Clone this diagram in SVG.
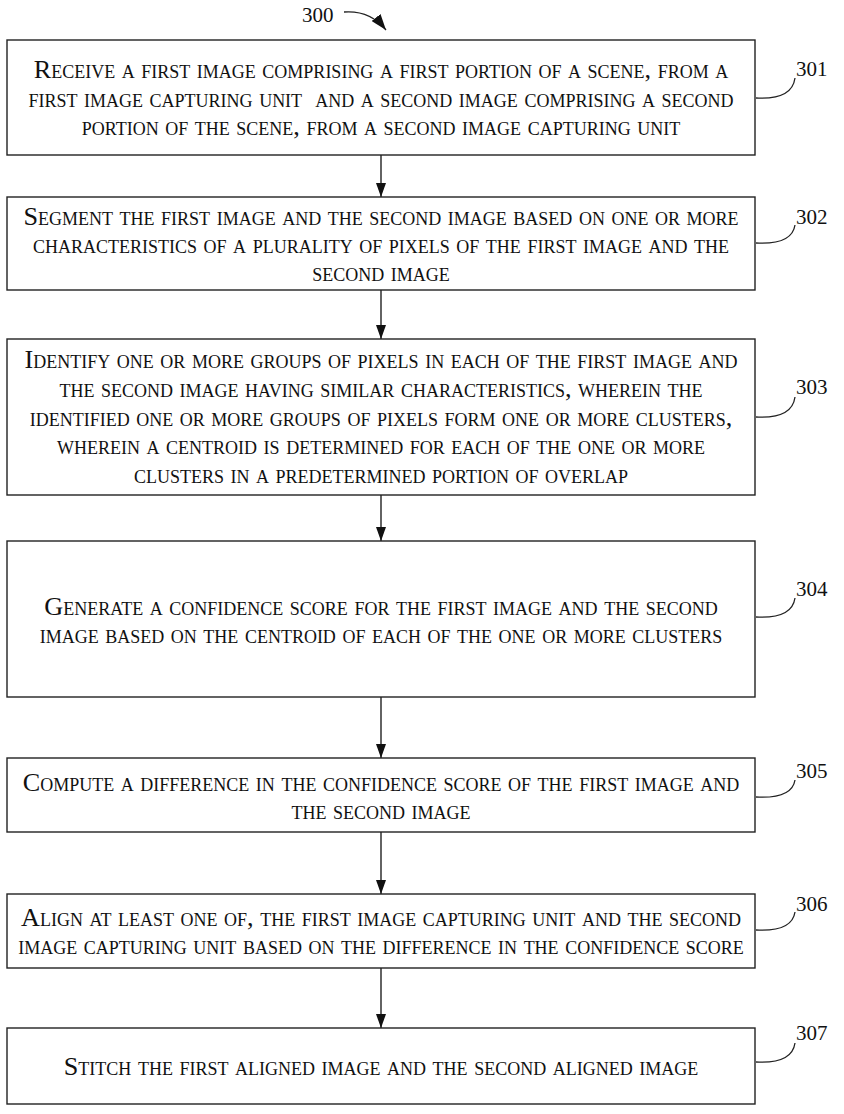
<svg xmlns="http://www.w3.org/2000/svg" width="844" height="1114" viewBox="0 0 844 1114">
<style>
.box{fill:#fff;stroke:#222;stroke-width:1.4}
.t{font-family:"Liberation Serif","Times New Roman",serif;font-size:26.2px;font-variant:small-caps;fill:#111;text-anchor:middle}
.n{font-family:"Liberation Serif","Times New Roman",serif;font-size:21px;fill:#111}
.lead{fill:none;stroke:#222;stroke-width:1.3}
.conn{stroke:#222;stroke-width:1.4;fill:none}
</style>
<defs>
<marker id="ah" viewBox="0 0 14 10" refX="14" refY="5" markerWidth="14" markerHeight="10" markerUnits="userSpaceOnUse" orient="auto">
<path d="M0,0 L14,5 L0,10 Z" fill="#111"/>
</marker>
<marker id="ah2" viewBox="0 0 14 10" refX="14" refY="5" markerWidth="16" markerHeight="12" markerUnits="userSpaceOnUse" orient="auto">
<path d="M0,0 L14,5 L0,10 Z" fill="#111"/>
</marker>
</defs>
<rect width="844" height="1114" fill="#fff"/>
<g id="label300">
<text class="n" x="302" y="22">300</text>
<path class="lead" d="M344,12 Q370,10 386,30" marker-end="url(#ah2)"/>
</g>
<g id="connectors">
<line class="conn" x1="381" y1="155" x2="381" y2="197" marker-end="url(#ah)"/>
<line class="conn" x1="381" y1="290" x2="381" y2="339" marker-end="url(#ah)"/>
<line class="conn" x1="381" y1="495" x2="381" y2="541" marker-end="url(#ah)"/>
<line class="conn" x1="381" y1="697" x2="381" y2="758" marker-end="url(#ah)"/>
<line class="conn" x1="381" y1="832" x2="381" y2="894" marker-end="url(#ah)"/>
<line class="conn" x1="381" y1="968" x2="381" y2="1028" marker-end="url(#ah)"/>
</g>
<g id="n301">
<rect class="box" x="7" y="40" width="748" height="115"/>
<text class="t" x="381" y="78">Receive a first image comprising a first portion of a scene, from a</text>
<text class="t" x="381" y="107" xml:space="preserve">first image capturing unit  and a second image comprising a second</text>
<text class="t" x="381" y="135">portion of the scene, from a second image capturing unit</text>
<path class="lead" d="M756,98 Q792,100 795,78"/>
<text class="n" x="796" y="76">301</text>
</g>
<g id="n302">
<rect class="box" x="7" y="197" width="748" height="93"/>
<text class="t" x="381" y="225">Segment the first image and the second image based on one or more</text>
<text class="t" x="381" y="253">characteristics of a plurality of pixels of the first image and the</text>
<text class="t" x="381" y="281">second image</text>
<path class="lead" d="M756,243 Q792,245 795,225"/>
<text class="n" x="796" y="224">302</text>
</g>
<g id="n303">
<rect class="box" x="7" y="339" width="748" height="156"/>
<text class="t" x="381" y="368">Identify one or more groups of pixels in each of the first image and</text>
<text class="t" x="381" y="397">the second image having similar characteristics, wherein the</text>
<text class="t" x="381" y="426">identified one or more groups of pixels form one or more clusters,</text>
<text class="t" x="381" y="454">wherein a centroid is determined for each of the one or more</text>
<text class="t" x="381" y="483">clusters in a predetermined portion of overlap</text>
<path class="lead" d="M756,417 Q792,419 795,397"/>
<text class="n" x="796" y="394">303</text>
</g>
<g id="n304">
<rect class="box" x="7" y="541" width="748" height="156"/>
<text class="t" x="381" y="615">Generate a confidence score for the first image and the second</text>
<text class="t" x="381" y="643">image based on the centroid of each of the one or more clusters</text>
<path class="lead" d="M756,617 Q792,619 795,598"/>
<text class="n" x="796" y="596">304</text>
</g>
<g id="n305">
<rect class="box" x="7" y="758" width="748" height="74"/>
<text class="t" x="381" y="791">Compute a difference in the confidence score of the first image and</text>
<text class="t" x="381" y="819">the second image</text>
<path class="lead" d="M756,797 Q792,799 795,780"/>
<text class="n" x="796" y="778">305</text>
</g>
<g id="n306">
<rect class="box" x="7" y="894" width="748" height="74"/>
<text class="t" x="381" y="926">Align at least one of, the first image capturing unit and the second</text>
<text class="t" x="381" y="954">image capturing unit based on the difference in the confidence score</text>
<path class="lead" d="M756,930 Q792,932 795,912"/>
<text class="n" x="796" y="911">306</text>
</g>
<g id="n307">
<rect class="box" x="7" y="1028" width="748" height="76"/>
<text class="t" x="381" y="1075">Stitch the first aligned image and the second aligned image</text>
<path class="lead" d="M756,1062 Q792,1064 795,1043"/>
<text class="n" x="796" y="1040">307</text>
</g>
</svg>
